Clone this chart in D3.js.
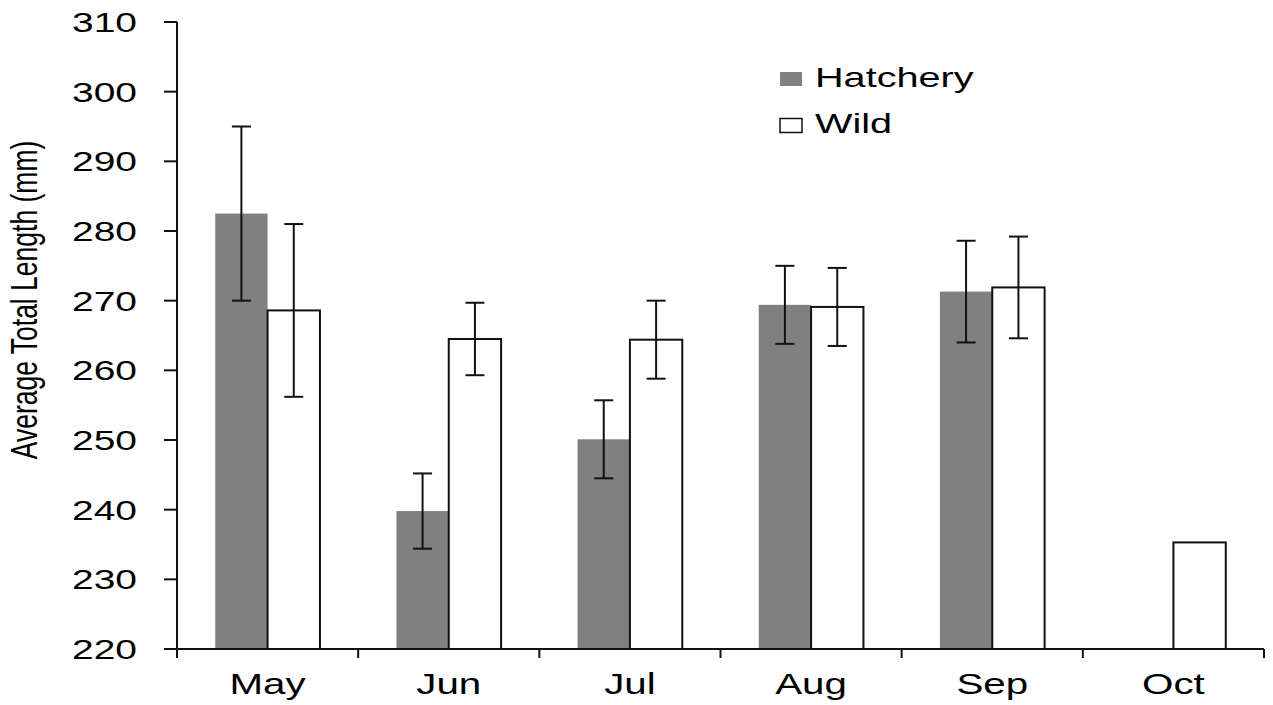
<!DOCTYPE html>
<html>
<head>
<meta charset="utf-8">
<script src="https://cdn.jsdelivr.net/npm/d3@7"></script>
<style>
    html, body { margin: 0; padding: 0; background: #fff; }
    text { font-family: Arial, 'Liberation Sans', sans-serif; fill: #000; }
</style>
</head>
<body>
<div class="vis-barchart-length"></div>
<script>
const months = ['May', 'Jun', 'Jul', 'Aug', 'Sep', 'Oct'];
const series = ['Hatchery', 'Wild'];
const hatchery = [282.5, 239.8, 250.1, 269.4, 271.3, null];
const hatcheryErr = [12.5, 5.4, 5.6, 5.6, 7.3, null];
const wild = [268.6, 264.5, 264.4, 269.1, 271.9, 235.3];
const wildErr = [12.4, 5.2, 5.6, 5.6, 7.3, null];
const yTicks = [220, 230, 240, 250, 260, 270, 280, 290, 300, 310];

const draw = (outerWidth, outerHeight) => {
    // the source picture is stretched sideways, so text gets a wider x scale
    const sx = 1.39;

    const dataset = [];
    months.forEach((m, i) => {
        dataset.push({month: m, key: 'Hatchery', value: hatchery[i], err: hatcheryErr[i]});
        dataset.push({month: m, key: 'Wild', value: wild[i], err: wildErr[i]});
    });

    const margin = {top: 22, right: 9, bottom: 56, left: 177};
    const width = outerWidth - margin.left - margin.right;
    const height = outerHeight - margin.top - margin.bottom;

    const svg = d3.select('.vis-barchart-length')
        .append('svg')
        .attr('width', outerWidth)
        .attr('height', outerHeight);

    const g = svg.append('g')
        .attr('transform', 'translate(' + margin.left + ',' + margin.top + ')');

    const x0 = d3.scaleBand()
        .domain(months)
        .range([0, width])
        .padding(0);

    const x1 = d3.scaleBand()
        .domain(series)
        .range([0, x0.bandwidth()])
        .paddingInner(0)
        .paddingOuter(0.73);

    const y = d3.scaleLinear()
        .domain([220, 310])
        .range([height, 0]);

    const color = d3.scaleOrdinal()
        .domain(series)
        .range(['#808080', '#ffffff']);

    const bars = dataset.filter(d => d.value !== null);

    g.selectAll('rect.bar')
        .data(bars)
        .enter()
        .append('rect')
        .attr('class', 'bar')
        .attr('x', d => x0(d.month) + x1(d.key))
        .attr('y', d => y(d.value))
        .attr('width', x1.bandwidth())
        .attr('height', d => y(220) - y(d.value))
        .attr('fill', d => color(d.key))
        .attr('stroke', d => d.key === 'Wild' ? '#111' : 'none')
        .attr('stroke-width', 2);

    const errs = bars.filter(d => d.err !== null);
    const cx = d => x0(d.month) + x1(d.key) + x1.bandwidth() / 2;

    g.selectAll('line.err')
        .data(errs)
        .enter()
        .append('line')
        .attr('class', 'err')
        .attr('x1', cx)
        .attr('x2', cx)
        .attr('y1', d => y(d.value + d.err))
        .attr('y2', d => y(d.value - d.err))
        .attr('stroke', '#111')
        .attr('stroke-width', 2);

    [1, -1].forEach(sign => {
        g.selectAll('line.cap' + (sign > 0 ? 'top' : 'bot'))
            .data(errs)
            .enter()
            .append('line')
            .attr('x1', d => cx(d) - 9.5)
            .attr('x2', d => cx(d) + 9.5)
            .attr('y1', d => y(d.value + sign * d.err))
            .attr('y2', d => y(d.value + sign * d.err))
            .attr('stroke', '#111')
            .attr('stroke-width', 2);
    });

    // y axis
    const yAxis = g.append('g');
    yAxis.append('line')
        .attr('x1', 0).attr('x2', 0)
        .attr('y1', y(310)).attr('y2', y(220))
        .attr('stroke', '#111').attr('stroke-width', 2);
    yAxis.selectAll('line.tick')
        .data(yTicks)
        .enter()
        .append('line')
        .attr('x1', -13).attr('x2', 0)
        .attr('y1', d => y(d)).attr('y2', d => y(d))
        .attr('stroke', '#111').attr('stroke-width', 2);
    yAxis.selectAll('text')
        .data(yTicks)
        .enter()
        .append('text')
        .attr('transform', d => 'translate(-40,' + (y(d) + 10) + ') scale(' + sx + ',1)')
        .attr('text-anchor', 'end')
        .style('font-size', '28px')
        .text(d => d);

    // x axis
    const xAxis = g.append('g').attr('transform', 'translate(0,' + height + ')');
    xAxis.append('line')
        .attr('x1', 0).attr('x2', width)
        .attr('stroke', '#111').attr('stroke-width', 2);
    const bounds = months.map(m => x0(m)).concat([width]);
    xAxis.selectAll('line.tick')
        .data(bounds)
        .enter()
        .append('line')
        .attr('x1', d => d).attr('x2', d => d)
        .attr('y1', 0).attr('y2', 9)
        .attr('stroke', '#111').attr('stroke-width', 2);
    xAxis.selectAll('text')
        .data(months)
        .enter()
        .append('text')
        .attr('transform', d => 'translate(' + (x0(d) + x0.bandwidth() / 2) + ',45) scale(' + sx + ',1)')
        .attr('text-anchor', 'middle')
        .style('font-size', '29px')
        .text(d => d);

    // axis title
    svg.append('text')
        .attr('transform', 'translate(37,300) scale(' + sx + ',1) rotate(-90)')
        .attr('text-anchor', 'middle')
        .style('font-size', '26.5px')
        .text('Average Total Length (mm)');

    // legend
    const legendG = svg.selectAll('.legend')
        .data(series)
        .enter().append('g')
        .attr('class', 'legend')
        .attr('transform', (d, i) => 'translate(780,' + (72 + i * 46.5) + ')');

    legendG.append('rect')
        .attr('width', 22)
        .attr('height', 14)
        .attr('fill', d => color(d))
        .attr('stroke', d => d === 'Wild' ? '#111' : 'none')
        .attr('stroke-width', 1.5);

    legendG.append('text')
        .attr('transform', 'translate(35,14.5) scale(' + sx + ',1)')
        .style('font-size', '28.5px')
        .text(d => d);
};

draw(1273, 705);
</script>
</body>
</html>
